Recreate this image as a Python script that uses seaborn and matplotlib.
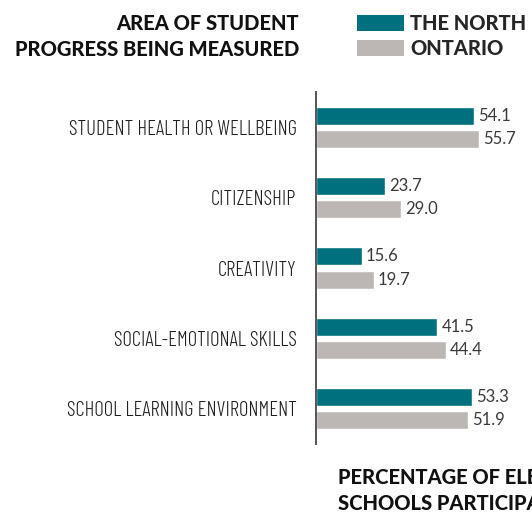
import pandas as pd
import matplotlib.pyplot as plt
import seaborn as sns
from matplotlib.patches import Patch
from matplotlib import font_manager as fm

# values
areas = [
    "STUDENT HEALTH OR WELLBEING",
    "CITIZENSHIP",
    "CREATIVITY",
    "SOCIAL-EMOTIONAL SKILLS",
    "SCHOOL LEARNING ENVIRONMENT",
]
north = [54.1, 23.7, 15.6, 41.5, 53.3]
ontario = [55.7, 29.0, 19.7, 44.4, 51.9]
groups = ["THE NORTH", "ONTARIO"]
colors = ["#00707f", "#bcb7b4"]

df = pd.DataFrame({
    "area": areas * 2,
    "pct": north + ontario,
    "region": [groups[0]] * len(areas) + [groups[1]] * len(areas),
})

installed = {f.name for f in fm.fontManager.ttflist}


def pick(*names):
    for n in names:
        if n in installed:
            return n
    return "DejaVu Sans"


narrow = pick("Barlow Condensed", "Roboto Condensed", "Liberation Sans Narrow")
label_size = 15 if narrow != "DejaVu Sans" else 10

sns.set_style("white")

fig = plt.figure(figsize=(5.32, 5.14), dpi=100)
W, H = 532, 514
ax = fig.add_axes([316 / W, 1 - 444 / H, (W - 316) / W, (444 - 92) / H])

sns.barplot(data=df, y="area", x="pct", hue="region", hue_order=groups,
            palette=colors, orient="h", width=0.66, gap=0.23,
            saturation=1, legend=False, ax=ax)

ax.set_xlim(0, (W - 316) / 2.92)
ax.set_ylim(4.5, -0.5)
ax.set_xlabel("")
ax.set_ylabel("")
ax.set_xticks([])
sns.despine(ax=ax, top=True, right=True, bottom=True, left=False)
ax.spines["left"].set_color("#555555")
ax.spines["left"].set_linewidth(1.4)
ax.tick_params(axis="y", length=0, pad=14)
for lab in ax.get_yticklabels():
    lab.set_fontfamily(narrow)
    lab.set_fontweight(300)
    lab.set_fontsize(label_size)
    lab.set_color("#1e1e1e")

for cont in ax.containers:
    ax.bar_label(cont, fmt="%.1f", padding=3, fontsize=12,
                 family="Lato", weight="normal", color="#3a3a3a")

bold = dict(family="Lato", weight="black", fontsize=14.5, color="#111111")
fig.text(299 / W, 1 - 23 / H, "AREA OF STUDENT", ha="right", va="center", **bold)
fig.text(299 / W, 1 - 50 / H, "PROGRESS BEING MEASURED", ha="right", va="center", **bold)
fig.text(338 / W, 1 - 478 / H, "PERCENTAGE OF ELEMENTARY", ha="left", va="center", **bold)
fig.text(338 / W, 1 - 504 / H, "SCHOOLS PARTICIPATING", ha="left", va="center", **bold)

handles = [Patch(facecolor=c, edgecolor="none") for c in colors]
leg = fig.legend(handles, groups, loc="upper left",
                 bbox_to_anchor=(357 / W, 1 - 14 / H), frameon=False,
                 handlelength=2.35, handleheight=0.85, handletextpad=0.3,
                 labelspacing=0.3, borderaxespad=0, borderpad=0,
                 prop=dict(family="Lato", weight="black", size=14.5))

fig.savefig("out.png", dpi=100)
